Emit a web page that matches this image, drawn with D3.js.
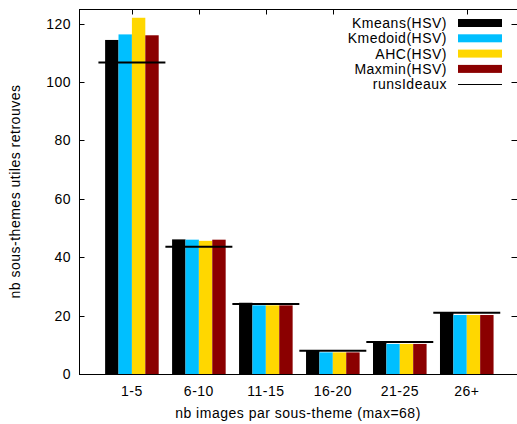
<!DOCTYPE html>
<html>
<head>
<meta charset="utf-8">
<script src="https://cdn.jsdelivr.net/npm/d3@7"></script>
<style>
  html, body { margin: 0; padding: 0; background: #fff; }
  svg text { font-family: "Liberation Sans", Arial, Helvetica, sans-serif; font-size: 14px; letter-spacing: 0.5px; fill: #000; }
</style>
</head>
<body>
<svg id="chart" width="517" height="424"></svg>
<script>
// Categories: number of images per sub-theme
const categories = ["1-5", "6-10", "11-15", "16-20", "21-25", "26+"];

// Useful sub-themes retrieved, per clustering method
const seriesNames = ["Kmeans(HSV)", "Kmedoid(HSV)", "AHC(HSV)", "Maxmin(HSV)"];
const kmeans  = [114.4, 46.1, 24.4, 8.2, 11.1, 21.1];
const kmedoid = [116.3, 46.0, 23.5, 7.4, 10.3, 20.2];
const ahc     = [122.0, 45.6, 23.5, 7.4, 10.3, 20.2];
const maxmin  = [116.0, 46.0, 23.5, 7.4, 10.3, 20.2];
// Ideal runs (reference line drawn across each category)
const idealName = "runsIdeaux";
const ideal   = [106.7, 43.6, 24.0, 8.0, 11.0, 21.0];

const yTicks = [0, 20, 40, 60, 80, 100, 120];
const colors = ["#000000", "#00bfff", "#ffd700", "#8b0000"];
const seriesValues = [kmeans, kmedoid, ahc, maxmin];

const svg = d3.select("#chart");
const plotLeft = 79, plotRight = 517, plotTop = 9, plotBottom = 374;

// Category index on a linear scale (gnuplot-like histogram layout)
const x = d3.scaleLinear().domain([-0.79, 5.75]).range([plotLeft, plotRight]);
const y = d3.scaleLinear().domain([0, 125]).range([plotBottom, plotTop]);
const sub = d3.scaleBand().domain(d3.range(seriesNames.length)).range([-0.4, 0.4]).padding(0);

const tickLen = 5.5;

// Inward ticks on all four sides
const tg = svg.append("g").attr("stroke", "#000").attr("stroke-width", 1);
yTicks.forEach(v => {
  const yy = Math.round(y(v)) + 0.5;
  tg.append("line").attr("x1", plotLeft).attr("x2", plotLeft + tickLen).attr("y1", yy).attr("y2", yy);
  tg.append("line").attr("x1", plotRight).attr("x2", plotRight - tickLen).attr("y1", yy).attr("y2", yy);
});
categories.forEach((c, i) => {
  const xx = Math.round(x(i)) + 0.5;
  tg.append("line").attr("x1", xx).attr("x2", xx).attr("y1", plotBottom).attr("y2", plotBottom - tickLen);
  tg.append("line").attr("x1", xx).attr("x2", xx).attr("y1", plotTop).attr("y2", plotTop + tickLen);
});

// Bars
const bars = svg.append("g");
seriesValues.forEach((vals, s) => {
  bars.selectAll(null).data(vals).enter().append("rect")
    .attr("x", (d, i) => x(i + sub(s)))
    .attr("width", x(sub.bandwidth()) - x(0))
    .attr("y", d => y(d))
    .attr("height", d => y(0) - y(d))
    .attr("fill", colors[s]);
});

// Ideal-run reference segments spanning each category
svg.append("g").selectAll("line").data(ideal).enter().append("line")
  .attr("x1", (d, i) => x(i - 0.5))
  .attr("x2", (d, i) => x(i + 0.5))
  .attr("y1", d => y(d))
  .attr("y2", d => y(d))
  .attr("stroke", "#000")
  .attr("stroke-width", 2);

// Frame
svg.append("rect")
  .attr("x", plotLeft + 0.5).attr("y", plotTop + 0.5)
  .attr("width", plotRight - plotLeft).attr("height", plotBottom - plotTop)
  .attr("fill", "none").attr("stroke", "#000").attr("stroke-width", 1);

// Y tick labels
svg.append("g").selectAll("text").data(yTicks).enter().append("text")
  .attr("x", 71).attr("y", d => y(d))
  .attr("dy", "0.35em")
  .attr("text-anchor", "end")
  .text(d => d);

// X tick labels
svg.append("g").selectAll("text").data(categories).enter().append("text")
  .attr("x", (d, i) => x(i)).attr("y", 391)
  .attr("dy", "0.35em")
  .attr("text-anchor", "middle")
  .text(d => d);

// Axis titles
svg.append("text")
  .attr("x", (plotLeft + plotRight) / 2).attr("y", 413)
  .attr("dy", "0.35em")
  .attr("text-anchor", "middle")
  .text("nb images par sous-theme (max=68)");

svg.append("text")
  .attr("transform", `translate(15,${(plotTop + plotBottom) / 2}) rotate(-90)`)
  .attr("dy", "0.35em")
  .attr("text-anchor", "middle")
  .text("nb sous-themes utiles retrouves");

// Legend
const legend = svg.append("g");
legend.append("rect")
  .attr("x", 345).attr("y", plotTop + 1)
  .attr("width", 106).attr("height", 82)
  .attr("fill", "#fff");
const rowY = i => 23 + i * 15.3;
seriesNames.forEach((name, i) => {
  legend.append("text")
    .attr("x", 447).attr("y", rowY(i))
    .attr("dy", "0.35em")
    .attr("text-anchor", "end")
    .text(name);
  legend.append("rect")
    .attr("x", 458).attr("y", rowY(i) - 4)
    .attr("width", 44).attr("height", 8)
    .attr("fill", colors[i]);
});
legend.append("text")
  .attr("x", 447).attr("y", rowY(4))
  .attr("dy", "0.35em")
  .attr("text-anchor", "end")
  .text(idealName);
legend.append("line")
  .attr("x1", 458).attr("x2", 502)
  .attr("y1", Math.round(rowY(4)) + 0.5).attr("y2", Math.round(rowY(4)) + 0.5)
  .attr("stroke", "#000").attr("stroke-width", 1);
</script>
</body>
</html>
